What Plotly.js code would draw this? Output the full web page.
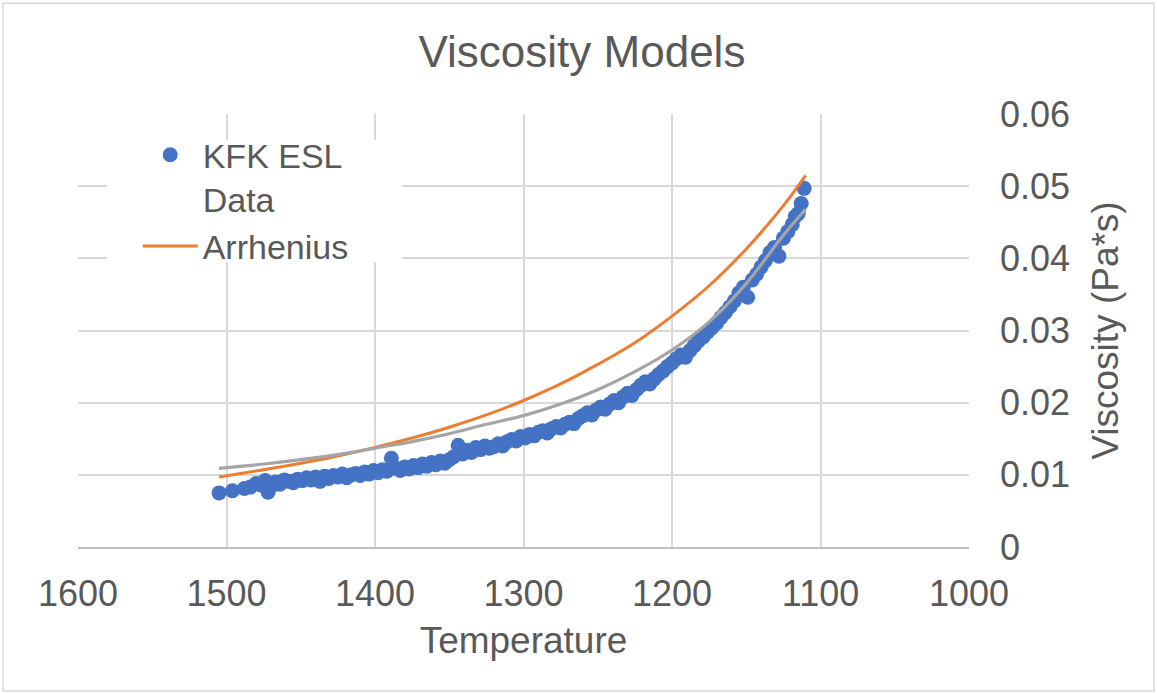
<!DOCTYPE html>
<html>
<head>
<meta charset="utf-8">
<script src="https://cdn.plot.ly/plotly-3.0.1.min.js"></script>
<style>html,body{margin:0;padding:0;background:#fff;}#chart{width:1157px;height:694px;}</style>
</head>
<body>
<div id="chart"></div>
<script>
// KFK ESL measured data (temperature, viscosity Pa*s)
const dataTemp = [1505,1496,1488,1484,1480,1477,1474,1472,1470,1467,1464,1461,1458,1455,1452,1449,1446,1443,1440,1437,1434,1431,1428,1425,1422,1419,1416,1413,1410,1407,1404,1401,1398,1395,1392,1389,1386,1383,1380,1377,1374,1371,1368,1365,1362,1359,1356,1353,1350,1347,1344,1341,1338,1335,1332,1329,1326,1323,1320,1317,1314,1311,1308,1305,1302,1299,1296,1293,1290,1287,1284,1281,1278,1275,1272,1269,1266,1263,1260,1257,1254,1251,1248,1245,1242,1239,1236,1233,1230,1227,1224,1221,1218,1215,1212,1209,1206,1203,1200,1197,1194,1191,1188,1185,1182,1179,1176,1173,1170,1167,1164,1161,1158,1155,1152,1149,1146,1143,1140,1137,1134,1131,1128,1125,1122,1119,1117,1115,1113,1111];
const dataVisc = [0.0075,0.0078,0.0081,0.0083,0.0088,0.0086,0.0092,0.0076,0.0084,0.0090,0.0087,0.0093,0.0091,0.0089,0.0094,0.0092,0.0096,0.0093,0.0097,0.0091,0.0098,0.0095,0.0099,0.0097,0.0101,0.0096,0.0100,0.0102,0.0099,0.0104,0.0101,0.0106,0.0103,0.0107,0.0105,0.0123,0.0109,0.0106,0.0111,0.0108,0.0113,0.0110,0.0115,0.0112,0.0117,0.0114,0.0119,0.0116,0.0121,0.0125,0.0141,0.0129,0.0134,0.0131,0.0138,0.0135,0.0140,0.0137,0.0139,0.0143,0.0140,0.0146,0.0149,0.0147,0.0153,0.0151,0.0156,0.0154,0.0159,0.0161,0.0158,0.0164,0.0167,0.0165,0.0170,0.0173,0.0171,0.0178,0.0182,0.0186,0.0183,0.0190,0.0194,0.0191,0.0198,0.0203,0.0200,0.0208,0.0213,0.0210,0.0218,0.0224,0.0229,0.0226,0.0233,0.0239,0.0244,0.0250,0.0255,0.0261,0.0266,0.0263,0.0272,0.0279,0.0286,0.0291,0.0298,0.0304,0.0310,0.0318,0.0325,0.0333,0.0341,0.0352,0.0360,0.0346,0.0370,0.0378,0.0388,0.0397,0.0408,0.0415,0.0403,0.0428,0.0437,0.0447,0.0458,0.0462,0.0476,0.0497];

// Arrhenius model curve
const arrTemp = [1505,1475,1450,1425,1400,1375,1350,1325,1300,1275,1250,1225,1200,1175,1150,1125,1110];
const arrVisc = [0.0097,0.0107,0.0116,0.0126,0.0138,0.0151,0.0166,0.0183,0.0203,0.0226,0.0253,0.0283,0.0320,0.0362,0.0413,0.0473,0.0515];

// Second model curve (gray)
const grayTemp = [1505,1475,1450,1425,1400,1375,1350,1325,1300,1275,1250,1225,1200,1175,1150,1125,1110];
const grayVisc = [0.0109,0.0115,0.0121,0.0128,0.0137,0.0146,0.0157,0.0170,0.0182,0.0198,0.0218,0.0243,0.0273,0.0312,0.0365,0.0432,0.0468];

const xTicks = [1600,1500,1400,1300,1200,1100,1000];
const yTicks = [0,0.01,0.02,0.03,0.04,0.05,0.06];

const txt = '#595959';
const fontFam = '"Liberation Sans", Arial, sans-serif';

const traces = [
  {x: dataTemp, y: dataVisc, type: 'scatter', mode: 'markers', name: 'KFK ESL<br>Data',
   marker: {color: '#4472C4', size: 15}},
  {x: arrTemp, y: arrVisc, type: 'scatter', mode: 'lines', name: 'Arrhenius',
   line: {color: '#ED7D31', width: 3, shape: 'spline'}},
  {x: grayTemp, y: grayVisc, type: 'scatter', mode: 'lines', name: 'Model', showlegend: false,
   line: {color: '#A5A5A5', width: 3.2, shape: 'spline'}}
];

const layout = {
  width: 1157, height: 694,
  margin: {l: 78, r: 188, t: 114, b: 147},
  paper_bgcolor: '#fff', plot_bgcolor: '#fff',
  font: {family: fontFam, color: txt, size: 36},
  title: {text: 'Viscosity Models', font: {size: 44, color: txt}, x: 0.503, xref: 'container', xanchor: 'center', y: 0.925, yanchor: 'middle'},
  xaxis: {
    range: [1600, 1000], autorange: false,
    tickvals: xTicks, ticktext: xTicks.map(String),
    showgrid: true, gridcolor: '#d9d9d9', gridwidth: 2,
    zeroline: false, showline: true, linecolor: '#bfbfbf', linewidth: 2,
    ticks: '', ticklabelstandoff: 14,
    tickfont: {size: 36, color: txt},
    title: {text: 'Temperature', font: {size: 37, color: txt}, standoff: 14}
  },
  yaxis: {
    side: 'right',
    range: [0, 0.06], autorange: false,
    tickvals: yTicks, ticktext: yTicks.map(String),
    showgrid: true, gridcolor: '#d9d9d9', gridwidth: 2,
    zeroline: false, showline: false,
    ticks: '', ticklabelstandoff: 30,
    tickfont: {size: 36, color: txt},
    title: {text: 'Viscosity (Pa*s)', font: {size: 37, color: txt}, standoff: 23}
  },
  showlegend: true,
  legend: {
    x: 0.067, y: 0.972, xanchor: 'left', yanchor: 'top',
    bgcolor: 'rgba(0,0,0,0)', borderwidth: 0, itemwidth: 55,
    font: {size: 34, color: txt}, valign: 'top', tracegroupgap: 0
  },
  shapes: [
    {type: 'rect', xref: 'paper', yref: 'paper', x0: 0.0325, x1: 0.3636, y0: 0.658, y1: 0.94,
     fillcolor: '#fff', line: {width: 0}, layer: 'above'},
    {type: 'rect', xref: 'paper', yref: 'paper', x0: -0.0842, x1: 1.2076, y0: -0.3326, y1: 1.256,
     fillcolor: 'rgba(0,0,0,0)', line: {width: 1.5, color: '#d9d9d9'}, layer: 'above'}
  ]
};

Plotly.newPlot('chart', traces, layout, {staticPlot: true, displayModeBar: false});
</script>
</body>
</html>
